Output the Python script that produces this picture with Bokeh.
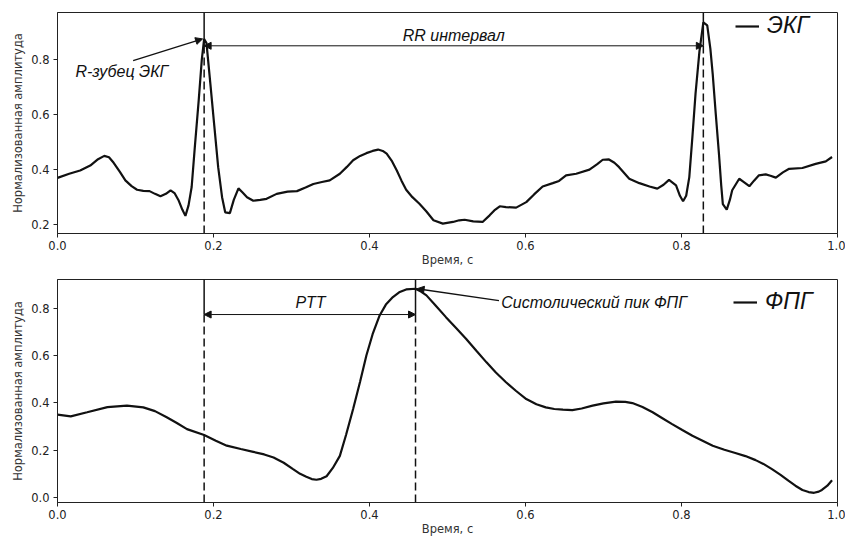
import numpy as np
from bokeh.plotting import figure
from bokeh.layouts import column
from bokeh.models import (Range1d, FixedTicker, Arrow, NormalHead, Label, Legend,
                          LegendItem, PrintfTickFormatter)
from bokeh.embed import file_html
from bokeh.resources import INLINE

# ---------------- data ----------------
ecg_t = [0.000, 0.015, 0.029, 0.042, 0.052, 0.060, 0.066, 0.072, 0.080, 0.087,
         0.095, 0.102, 0.110, 0.118, 0.125, 0.132, 0.139, 0.145, 0.150, 0.155,
         0.160, 0.164, 0.168, 0.172, 0.176, 0.181, 0.185, 0.188, 0.191, 0.196,
         0.201, 0.206, 0.211, 0.215, 0.221, 0.226, 0.232, 0.237, 0.243, 0.251,
         0.260, 0.268, 0.281, 0.295, 0.307, 0.318, 0.328, 0.339, 0.349, 0.362,
         0.371, 0.379, 0.388, 0.396, 0.404, 0.411, 0.417, 0.422, 0.429, 0.435,
         0.441, 0.447, 0.455, 0.464, 0.473, 0.482, 0.494, 0.507, 0.515, 0.522,
         0.533, 0.545, 0.554, 0.560, 0.567, 0.575, 0.588, 0.601, 0.611, 0.622,
         0.635, 0.643, 0.652, 0.665, 0.682, 0.692, 0.699, 0.707, 0.714, 0.720,
         0.733, 0.746, 0.759, 0.769, 0.777, 0.784, 0.793, 0.798, 0.802, 0.806,
         0.810, 0.814, 0.818, 0.823, 0.828, 0.833, 0.837, 0.840, 0.844, 0.848,
         0.851, 0.853, 0.858, 0.862, 0.865, 0.874, 0.880, 0.887, 0.893, 0.899,
         0.908, 0.914, 0.921, 0.930, 0.938, 0.955, 0.972, 0.985, 0.993]
ecg_v = [0.370, 0.385, 0.397, 0.415, 0.438, 0.450, 0.445, 0.425, 0.392, 0.361,
         0.340, 0.327, 0.323, 0.322, 0.312, 0.303, 0.312, 0.325, 0.315, 0.290,
         0.255, 0.232, 0.270, 0.337, 0.480, 0.651, 0.800, 0.875, 0.860, 0.712,
         0.560, 0.409, 0.300, 0.245, 0.242, 0.290, 0.332, 0.318, 0.300, 0.287,
         0.290, 0.294, 0.312, 0.320, 0.322, 0.335, 0.348, 0.355, 0.361, 0.385,
         0.410, 0.434, 0.450, 0.460, 0.468, 0.473, 0.468, 0.458, 0.430, 0.397,
         0.360, 0.327, 0.300, 0.276, 0.248, 0.216, 0.204, 0.210, 0.216, 0.218,
         0.212, 0.210, 0.234, 0.252, 0.267, 0.264, 0.262, 0.282, 0.310, 0.339,
         0.351, 0.359, 0.379, 0.385, 0.400, 0.420, 0.436, 0.437, 0.425, 0.409,
         0.367, 0.351, 0.339, 0.331, 0.345, 0.363, 0.343, 0.305, 0.285, 0.305,
         0.373, 0.520, 0.676, 0.830, 0.935, 0.924, 0.840, 0.748, 0.600, 0.458,
         0.340, 0.275, 0.255, 0.290, 0.325, 0.367, 0.355, 0.340, 0.360, 0.379,
         0.383, 0.378, 0.371, 0.390, 0.403, 0.406, 0.421, 0.430, 0.446]

ppg_t = [0.000, 0.017, 0.038, 0.064, 0.089, 0.110, 0.125, 0.140, 0.153, 0.166,
         0.188, 0.203, 0.217, 0.235, 0.251, 0.265, 0.277, 0.290, 0.302, 0.311,
         0.319, 0.326, 0.332, 0.338, 0.345, 0.353, 0.362, 0.370, 0.379, 0.388,
         0.396, 0.404, 0.413, 0.421, 0.430, 0.438, 0.447, 0.459, 0.466, 0.473,
         0.485, 0.498, 0.511, 0.524, 0.537, 0.550, 0.562, 0.575, 0.588, 0.601,
         0.614, 0.626, 0.637, 0.648, 0.660, 0.672, 0.686, 0.700, 0.716, 0.728,
         0.737, 0.750, 0.763, 0.775, 0.788, 0.801, 0.814, 0.827, 0.840, 0.855,
         0.869, 0.882, 0.895, 0.905, 0.916, 0.927, 0.937, 0.946, 0.955, 0.963,
         0.970, 0.976, 0.980, 0.987, 0.993]
ppg_v = [0.350, 0.343, 0.360, 0.382, 0.388, 0.381, 0.365, 0.339, 0.315, 0.289,
         0.264, 0.240, 0.219, 0.205, 0.193, 0.182, 0.169, 0.147, 0.120, 0.100,
         0.088, 0.078, 0.075, 0.079, 0.090, 0.125, 0.176, 0.265, 0.374, 0.490,
         0.600, 0.690, 0.769, 0.815, 0.847, 0.867, 0.879, 0.882, 0.870, 0.854,
         0.810, 0.762, 0.716, 0.670, 0.620, 0.571, 0.528, 0.487, 0.450, 0.416,
         0.394, 0.381, 0.374, 0.371, 0.369, 0.376, 0.388, 0.398, 0.405, 0.404,
         0.399, 0.382, 0.360, 0.336, 0.310, 0.285, 0.261, 0.240, 0.219, 0.202,
         0.188, 0.175, 0.158, 0.142, 0.120, 0.096, 0.071, 0.050, 0.032, 0.023,
         0.020, 0.025, 0.032, 0.050, 0.073]

x_ticks = [0.0, 0.2, 0.4, 0.6, 0.8, 1.0]
ecg_y_ticks = [0.2, 0.4, 0.6, 0.8]
ppg_y_ticks = [0.0, 0.2, 0.4, 0.6, 0.8]
y_label = "Нормализованная амплитуда"
x_label = "Время, с"
ecg_name = "ЭКГ"
ppg_name = "ФПГ"
rr_text = "RR интервал"
r_text = "R-зубец ЭКГ"
ptt_text = "PTT"
sys_text = "Систолический пик ФПГ"

# ---------------- derived peaks ----------------
et = np.array(ecg_t); ev = np.array(ecg_v)
first = et < 0.5
i1 = int(np.argmax(np.where(first, ev, -1)))
i2 = int(np.argmax(np.where(~first, ev, -1)))
r1_t, r1_v = et[i1], ev[i1]
r2_t, r2_v = et[i2], ev[i2]
pt = np.array(ppg_t); pv = np.array(ppg_v)
ip = int(np.argmax(pv))
sp_t, sp_v = pt[ip], pv[ip]

ECG_Y = (0.168, 0.971)
PPG_Y = (-0.021, 0.921)
RR_LEVEL = 0.85
PTT_LEVEL = 0.773

TICK_FONT = "DejaVu Sans"
ANN_FONT = "Liberation Sans"
INK = "#111111"


def make_fig(height, top, bottom, yr, yticks):
    p = figure(width=845, height=height, output_backend="svg", toolbar_location=None,
               x_range=Range1d(0.0, 1.0), y_range=Range1d(*yr),
               min_border_left=57, min_border_right=8,
               min_border_top=top, min_border_bottom=bottom)
    p.grid.visible = False
    p.outline_line_color = "#222222"
    p.outline_line_width = 1
    p.background_fill_color = "white"
    p.border_fill_color = "white"
    for ax, ticks in ((p.xaxis[0], x_ticks), (p.yaxis[0], yticks)):
        ax.ticker = FixedTicker(ticks=ticks)
        ax.formatter = PrintfTickFormatter(format="%.1f")
        ax.minor_tick_line_color = None
        ax.major_tick_in = 0
        ax.major_tick_out = 4
        ax.major_tick_line_color = "#222222"
        ax.axis_line_color = "#222222"
        ax.major_label_text_font = TICK_FONT
        ax.major_label_text_font_size = "11.5px"
        ax.major_label_text_color = "#222222"
        ax.major_label_standoff = 3
        ax.axis_label_text_font = TICK_FONT
        ax.axis_label_text_font_size = "11.5px"
        ax.axis_label_text_font_style = "normal"
        ax.axis_label_text_color = "#333333"
        ax.axis_label_standoff = 0
    p.yaxis.axis_label_standoff = 3
    p.yaxis.major_label_standoff = 4
    p.xaxis.axis_label = x_label
    p.yaxis.axis_label = y_label
    return p


def head():
    return NormalHead(size=7, fill_color=INK, line_color=INK, line_width=1)


def add_legend(p, r, name, loc):
    lg = Legend(items=[LegendItem(label=name, renderers=[r])], location=loc,
                padding=0, margin=0, spacing=0, glyph_width=24, glyph_height=20,
                label_standoff=8, label_text_font=ANN_FONT, label_text_font_size="23px",
                label_text_font_style="italic", label_text_color=INK,
                border_line_alpha=0, background_fill_alpha=0)
    p.add_layout(lg)


# ---------------- ECG figure ----------------
p1 = make_fig(272, 12, 39, ECG_Y, ecg_y_ticks)
r_ecg = p1.line(ecg_t, ecg_v, line_color=INK, line_width=2.2)
for t in (r1_t, r2_t):
    p1.segment(x0=[t], y0=[ECG_Y[0]], x1=[t], y1=[RR_LEVEL], line_color=INK,
               line_width=1.5, line_dash="8 4")
    p1.segment(x0=[t], y0=[RR_LEVEL], x1=[t], y1=[ECG_Y[1]], line_color=INK,
               line_width=1.5)
p1.add_layout(Arrow(start=head(), end=head(), x_start=r1_t, y_start=RR_LEVEL,
                    x_end=r2_t, y_end=RR_LEVEL, line_color=INK, line_width=1))
p1.add_layout(Arrow(end=head(), x_start=0.097, y_start=0.796, x_end=r1_t - 0.002,
                    y_end=r1_v, line_color=INK, line_width=1.3))
p1.add_layout(Label(x=(r1_t + r2_t) / 2, y=0.889, text=rr_text, text_align="center",
                    text_baseline="middle", text_font=ANN_FONT, text_font_size="16px",
                    text_font_style="italic", text_color=INK))
p1.add_layout(Label(x=0.023, y=0.756, text=r_text, text_align="left",
                    text_baseline="middle", text_font=ANN_FONT, text_font_size="16px",
                    text_font_style="italic", text_color=INK))
add_legend(p1, r_ecg, ecg_name, (678, 194))

# ---------------- PPG figure ----------------
p2 = make_fig(266, 7, 36, PPG_Y, ppg_y_ticks)
r_ppg = p2.line(ppg_t, ppg_v, line_color=INK, line_width=2.2)
for t in (r1_t, sp_t):
    p2.segment(x0=[t], y0=[PPG_Y[0]], x1=[t], y1=[PTT_LEVEL], line_color=INK,
               line_width=1.5, line_dash="8 4")
    p2.segment(x0=[t], y0=[PTT_LEVEL], x1=[t], y1=[PPG_Y[1]], line_color=INK,
               line_width=1.5)
p2.add_layout(Arrow(start=head(), end=head(), x_start=r1_t, y_start=PTT_LEVEL,
                    x_end=sp_t, y_end=PTT_LEVEL, line_color=INK, line_width=1))
p2.add_layout(Arrow(end=head(), x_start=0.566, y_start=0.832, x_end=sp_t + 0.002,
                    y_end=sp_v, line_color=INK, line_width=1.3))
p2.add_layout(Label(x=0.305, y=0.822, text=ptt_text, text_align="left",
                    text_baseline="middle", text_font=ANN_FONT, text_font_size="16px",
                    text_font_style="italic", text_color=INK))
p2.add_layout(Label(x=0.569, y=0.825, text=sys_text, text_align="left",
                    text_baseline="middle", text_font=ANN_FONT, text_font_size="16px",
                    text_font_style="italic", text_color=INK))
add_legend(p2, r_ppg, ppg_name, (676, 187))

layout = column(p1, p2, spacing=0)
open("out.html", "w").write(file_html(layout, INLINE))
